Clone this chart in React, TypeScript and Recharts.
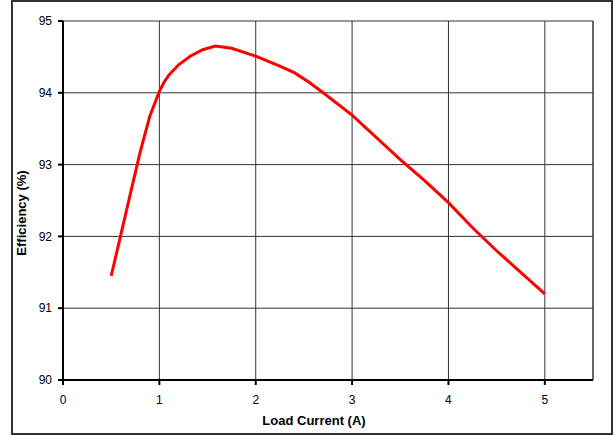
import React from 'react';
import { LineChart, Line, XAxis, YAxis, CartesianGrid, ReferenceLine } from 'recharts';

const loadCurrent = [0.5, 0.6, 0.7, 0.8, 0.9, 1.0, 1.05, 1.1, 1.2, 1.32, 1.45, 1.58, 1.75, 2.0, 2.25, 2.4, 2.55, 2.7, 3.0, 3.25, 3.5, 3.75, 4.0, 4.25, 4.5, 4.75, 5.0];
const efficiency = [91.45, 92.02, 92.6, 93.17, 93.67, 94.02, 94.15, 94.25, 94.39, 94.51, 94.6, 94.65, 94.62, 94.51, 94.37, 94.28, 94.15, 94.0, 93.69, 93.38, 93.07, 92.78, 92.47, 92.12, 91.8, 91.5, 91.2];
const xTicks = [0, 1, 2, 3, 4, 5];
const yTicks = [90, 91, 92, 93, 94, 95];

const data = loadCurrent.map((x, i) => ({ x, y: efficiency[i] }));

const FONT = '"Liberation Sans", Arial, sans-serif';

export default function App() {
  return (
    <div style={{ position: 'absolute', left: 0, top: 0, width: 615, height: 435, background: '#fff' }}>
      <div style={{ position: 'absolute', left: 11, top: 0, width: 598, height: 431, border: '2px solid #333' }} />
      <LineChart width={615} height={435} data={data} margin={{ top: 21, right: 22, bottom: 25, left: 0 }} style={{ position: 'absolute', left: 0, top: 0 }}>
        <CartesianGrid stroke="#333" strokeWidth={1} />
        <ReferenceLine x={5.5} stroke="#333" strokeWidth={1} />
        <XAxis
          dataKey="x"
          type="number"
          domain={[0, 5.5]}
          ticks={xTicks}
          height={30}
          tickSize={5}
          tickMargin={10}
          stroke="#000"
          strokeWidth={2}
          tick={{ fill: '#000', fontSize: 12, fontFamily: FONT }}
          label={{
            content: () => (
              <text x={314} y={425} textAnchor="middle" fontFamily={FONT} fontSize={13} fontWeight="bold" fill="#000">Load Current (A)</text>
            ),
          }}
        />
        <YAxis
          type="number"
          domain={[90, 95]}
          ticks={yTicks}
          width={63}
          tickSize={5}
          tickMargin={6}
          stroke="#000"
          strokeWidth={2}
          tick={{ fill: '#000', fontSize: 12, fontFamily: FONT }}
          label={{
            content: () => (
              <text x={26} y={213} transform="rotate(-90 26 213)" textAnchor="middle" fontFamily={FONT} fontSize={13} fontWeight="bold" fill="#000">Efficiency (%)</text>
            ),
          }}
        />
        <Line dataKey="y" type="linear" stroke="#ff0000" strokeWidth={3} dot={false} isAnimationActive={false} />
      </LineChart>
    </div>
  );
}
